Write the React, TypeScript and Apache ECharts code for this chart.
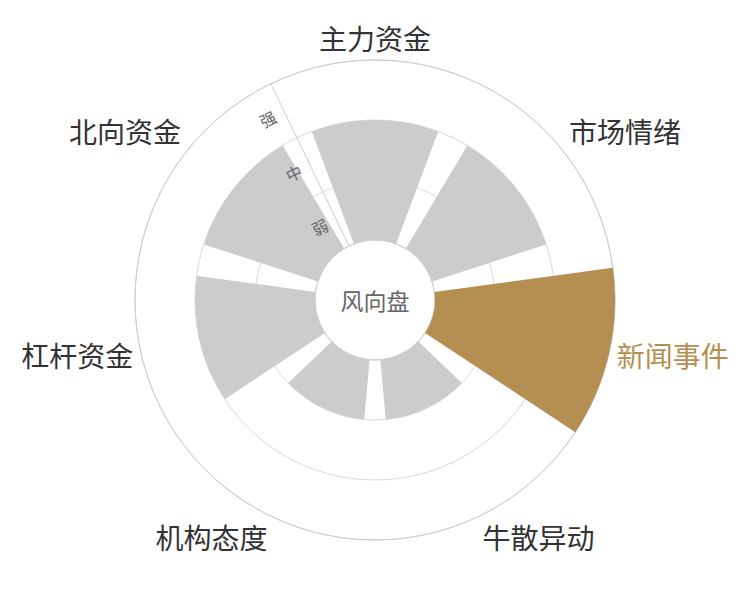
import React, { useEffect, useRef } from 'react';
import * as echarts from 'echarts';
import type { EChartsType } from 'echarts';

const categories = ['主力资金', '市场情绪', '新闻事件', '牛散异动', '机构态度', '杠杆资金', '北向资金'];
const strengthValues = [2, 2, 3, 1, 1, 2, 2];
const levelLabels = ['弱', '中', '强'];
const centerLabel = '风向盘';
const highlightIndex = 2;

const GREY = '#cccccc';
const GOLD = '#b58f52';
const FONT = '"Noto Sans CJK SC", "Noto Sans", sans-serif';

const WindRoseChart = () => {
  const chartRef = useRef<HTMLDivElement>(null);

  useEffect(() => {
    let chartInstance: EChartsType | null = null;

    if (chartRef.current) {
      chartInstance = echarts.init(chartRef.current, null, { renderer: 'svg' });

      // first category centred at the top
      const startAngle = 90 + 360 / categories.length / 2;

      const option = {
        animation: false,
        textStyle: { fontFamily: FONT },
        polar: [
          { center: ['50%', '50%'], radius: [60, 240] },
          { center: ['50%', '50%'], radius: [60, 240] }
        ],
        angleAxis: [
          {
            polarIndex: 0,
            type: 'category',
            startAngle,
            data: categories.map((name, i) =>
              i === highlightIndex ? { value: name, textStyle: { color: GOLD } } : name
            ),
            axisLine: { show: true, lineStyle: { color: '#cccccc', width: 1 } },
            axisTick: { show: false },
            splitLine: { show: false },
            axisLabel: { fontSize: 28, color: '#333333', margin: 8, fontFamily: FONT }
          },
          {
            polarIndex: 1,
            type: 'value',
            min: 0,
            max: 1,
            startAngle,
            axisLine: { show: false },
            axisTick: { show: false },
            splitLine: { show: false },
            axisLabel: { show: false }
          }
        ],
        radiusAxis: [
          {
            polarIndex: 0,
            type: 'value',
            min: 0,
            max: 3,
            interval: 1,
            axisLine: { show: false },
            axisTick: { show: false },
            axisLabel: { show: false },
            splitLine: { show: true, lineStyle: { color: '#d9d9d9', width: 1 } }
          },
          {
            polarIndex: 1,
            type: 'category',
            z: 5,
            data: levelLabels,
            axisLine: { show: true, lineStyle: { color: '#cccccc', width: 1 } },
            axisTick: { show: false },
            splitLine: { show: false },
            axisLabel: { fontSize: 16, color: '#666666', rotate: 25.7, margin: 10, fontFamily: FONT }
          }
        ],
        graphic: [
          {
            type: 'text',
            left: 'center',
            top: 'middle',
            style: { text: centerLabel, fontSize: 23, fill: '#666666', fontFamily: FONT }
          }
        ],
        series: [
          {
            type: 'bar',
            coordinateSystem: 'polar',
            polarIndex: 0,
            barCategoryGap: '20%',
            z: 2,
            data: strengthValues.map((v, i) => ({
              value: v,
              itemStyle: { color: i === highlightIndex ? GOLD : GREY }
            }))
          }
        ]
      };

      chartInstance.setOption(option);
    }

    return () => {
      chartInstance?.dispose();
    };
  }, []);

  return (
    <div
      ref={chartRef}
      style={{ position: 'absolute', left: 0, top: 0, width: '750px', height: '600px' }}
    ></div>
  );
};

export default function App() {
  return <WindRoseChart />;
}
